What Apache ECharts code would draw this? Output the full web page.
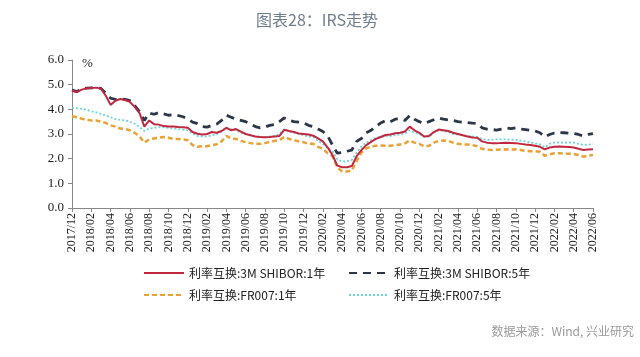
<!DOCTYPE html>
<html><head><meta charset="utf-8">
<script src="https://cdn.jsdelivr.net/npm/echarts@6/dist/echarts.min.js"></script>
<style>html,body{margin:0;padding:0;background:#fff}#c{width:640px;height:357px}</style>
</head><body><div id="c"></div>
<script>
var months = ["2017/12","2018/01","2018/02","2018/03","2018/04","2018/05","2018/06","2018/07","2018/08","2018/09","2018/10","2018/11","2018/12",
"2019/01","2019/02","2019/03","2019/04","2019/05","2019/06","2019/07","2019/08","2019/09","2019/10","2019/11","2019/12",
"2020/01","2020/02","2020/03","2020/04","2020/05","2020/06","2020/07","2020/08","2020/09","2020/10","2020/11","2020/12",
"2021/01","2021/02","2021/03","2021/04","2021/05","2021/06","2021/07","2021/08","2021/09","2021/10","2021/11","2021/12",
"2022/01","2022/02","2022/03","2022/04","2022/05","2022/06"];
// half-month sample points: each month has an early and a mid sample (last month only early)
var categories = [];
months.forEach(function(m, k){ categories.push(m); if (k < months.length - 1) categories.push(m + "中"); });

var shibor1y = [4.75,4.70,4.80,4.85,4.86,4.88,4.84,4.55,4.18,4.35,4.42,4.38,4.30,4.10,3.85,3.30,3.55,3.40,3.38,3.32,3.30,3.30,3.28,3.27,3.25,3.08,3.01,2.98,3.00,3.08,3.05,3.12,3.25,3.15,3.20,3.10,3.00,2.95,2.90,2.88,2.87,2.88,2.90,2.92,3.17,3.12,3.08,3.02,3.00,2.98,2.93,2.82,2.70,2.45,2.15,1.72,1.65,1.65,1.70,2.10,2.35,2.55,2.68,2.80,2.88,2.96,2.98,3.03,3.05,3.10,3.30,3.15,3.05,2.90,2.92,3.08,3.18,3.15,3.12,3.05,3.00,2.95,2.90,2.86,2.85,2.70,2.65,2.63,2.62,2.64,2.65,2.64,2.63,2.60,2.57,2.55,2.52,2.48,2.38,2.45,2.48,2.49,2.48,2.47,2.45,2.40,2.35,2.37,2.38];
var shibor5y = [4.78,4.72,4.82,4.86,4.87,4.88,4.85,4.65,4.45,4.40,4.42,4.40,4.35,4.15,3.90,3.55,3.85,3.80,3.87,3.82,3.76,3.78,3.75,3.70,3.62,3.48,3.42,3.30,3.28,3.35,3.40,3.55,3.76,3.68,3.60,3.55,3.50,3.40,3.30,3.25,3.28,3.35,3.38,3.50,3.65,3.55,3.50,3.48,3.45,3.35,3.30,3.20,3.10,2.92,2.55,2.22,2.25,2.30,2.35,2.70,2.82,3.05,3.15,3.30,3.45,3.55,3.50,3.60,3.62,3.55,3.75,3.60,3.50,3.42,3.50,3.58,3.65,3.60,3.57,3.55,3.50,3.48,3.46,3.44,3.43,3.25,3.20,3.18,3.16,3.20,3.24,3.22,3.25,3.20,3.18,3.15,3.12,3.05,2.88,2.98,3.04,3.06,3.05,3.03,3.02,2.98,2.92,2.98,3.02];
var fr0071y = [3.72,3.68,3.62,3.58,3.55,3.55,3.50,3.45,3.35,3.30,3.22,3.20,3.15,3.05,2.90,2.65,2.78,2.82,2.85,2.88,2.85,2.80,2.80,2.78,2.75,2.55,2.48,2.50,2.50,2.55,2.58,2.70,2.92,2.82,2.80,2.72,2.67,2.63,2.60,2.60,2.63,2.68,2.72,2.75,2.88,2.80,2.75,2.70,2.67,2.60,2.60,2.48,2.40,2.22,2.10,1.65,1.48,1.48,1.52,1.90,2.25,2.42,2.49,2.52,2.53,2.52,2.52,2.55,2.57,2.62,2.73,2.65,2.60,2.50,2.52,2.65,2.72,2.74,2.72,2.65,2.60,2.58,2.57,2.55,2.50,2.40,2.37,2.35,2.36,2.37,2.38,2.37,2.38,2.35,2.32,2.30,2.30,2.28,2.12,2.18,2.22,2.22,2.20,2.20,2.19,2.15,2.08,2.12,2.15];
var fr0075y = [4.07,4.05,4.02,3.98,3.92,3.88,3.82,3.75,3.68,3.60,3.57,3.55,3.50,3.42,3.28,3.12,3.22,3.25,3.28,3.27,3.25,3.22,3.20,3.18,3.15,3.02,2.92,2.90,2.90,2.95,2.98,3.10,3.26,3.20,3.15,3.05,3.00,2.95,2.90,2.88,2.88,2.90,2.92,3.00,3.20,3.10,3.05,3.00,2.95,2.90,2.88,2.72,2.60,2.45,2.30,1.98,1.88,1.90,1.95,2.25,2.50,2.65,2.75,2.85,2.88,2.90,2.92,2.95,2.98,3.02,3.15,3.05,3.00,2.88,2.90,3.05,3.15,3.12,3.08,3.00,2.98,2.94,2.92,2.90,2.88,2.80,2.76,2.77,2.78,2.78,2.78,2.77,2.76,2.73,2.70,2.66,2.62,2.58,2.46,2.60,2.65,2.66,2.65,2.66,2.65,2.60,2.55,2.57,2.59];
var seriesNames = ["利率互换:3M SHIBOR:1年","利率互换:3M SHIBOR:5年","利率互换:FR007:1年","利率互换:FR007:5年"];
var yTicks = [0,1,2,3,4,5,6];

var chart = echarts.init(document.getElementById('c'));
var legendFont = {fontFamily:'"Noto Sans CJK SC"', fontSize:12, color:'#222'};
function lg(name, left, top){
  return {data:[name], left:left, top:top, itemWidth:40, itemHeight:10, itemGap:0, textStyle:legendFont,
    itemStyle:{opacity:0}};
}
chart.setOption({
  animation:false,
  title:{text:'图表28：IRS走势', left:312, top:7, textAlign:'center',
    textStyle:{fontFamily:'"Noto Sans CJK SC"', fontSize:16, fontWeight:'normal', color:'#6f7d8c'}},
  legend:[lg(seriesNames[0],138,262), lg(seriesNames[1],343,262), lg(seriesNames[2],138,284), lg(seriesNames[3],343,284)],
  graphic:[
    {type:'text', left:82, top:57, style:{text:'%', font:'13px "Liberation Serif"', fill:'#222'}},
    {type:'text', right:6, top:325, style:{text:'数据来源：Wind, 兴业研究', font:'12px "Noto Sans CJK SC"', fill:'#9a9a9a'}}
  ],
  grid:{left:72, right:47, top:60, bottom:149, containLabel:false},
  xAxis:{type:'category', data:categories, boundaryGap:false,
    axisLine:{lineStyle:{color:'#888', width:1}},
    axisTick:{interval:function(i){return i%4===0;}, length:4, lineStyle:{color:'#888'}},
    axisLabel:{interval:function(i){return i%4===0;}, rotate:90, fontFamily:'"Liberation Serif"', fontSize:12, color:'#222', margin:5}},
  yAxis:{type:'value', min:0, max:6, interval:1,
    axisLine:{show:true, lineStyle:{color:'#888'}},
    axisTick:{show:true, length:4, lineStyle:{color:'#888'}},
    splitLine:{show:false},
    axisLabel:{formatter:function(v){return v.toFixed(1);}, fontFamily:'"Liberation Serif"', fontSize:13, color:'#222', margin:8}},
  series:[
    {name:seriesNames[0], type:'line', data:shibor1y, symbol:'none', z:4, lineStyle:{color:'#c0283f', width:2}, itemStyle:{color:'#c0283f'}},
    {name:seriesNames[1], type:'line', data:shibor5y, symbol:'none', z:3, lineStyle:{color:'#2b3648', width:2.8, type:[8,6]}, itemStyle:{color:'#2b3648'}},
    {name:seriesNames[2], type:'line', data:fr0071y, symbol:'none', z:2, lineStyle:{color:'#e8a235', width:2.5, type:[5,3]}, itemStyle:{color:'#e8a235'}},
    {name:seriesNames[3], type:'line', data:fr0075y, symbol:'none', z:1, lineStyle:{color:'#6fd3d6', width:1.8, type:[2,2]}, itemStyle:{color:'#6fd3d6'}}
  ]
});
</script></body></html>
